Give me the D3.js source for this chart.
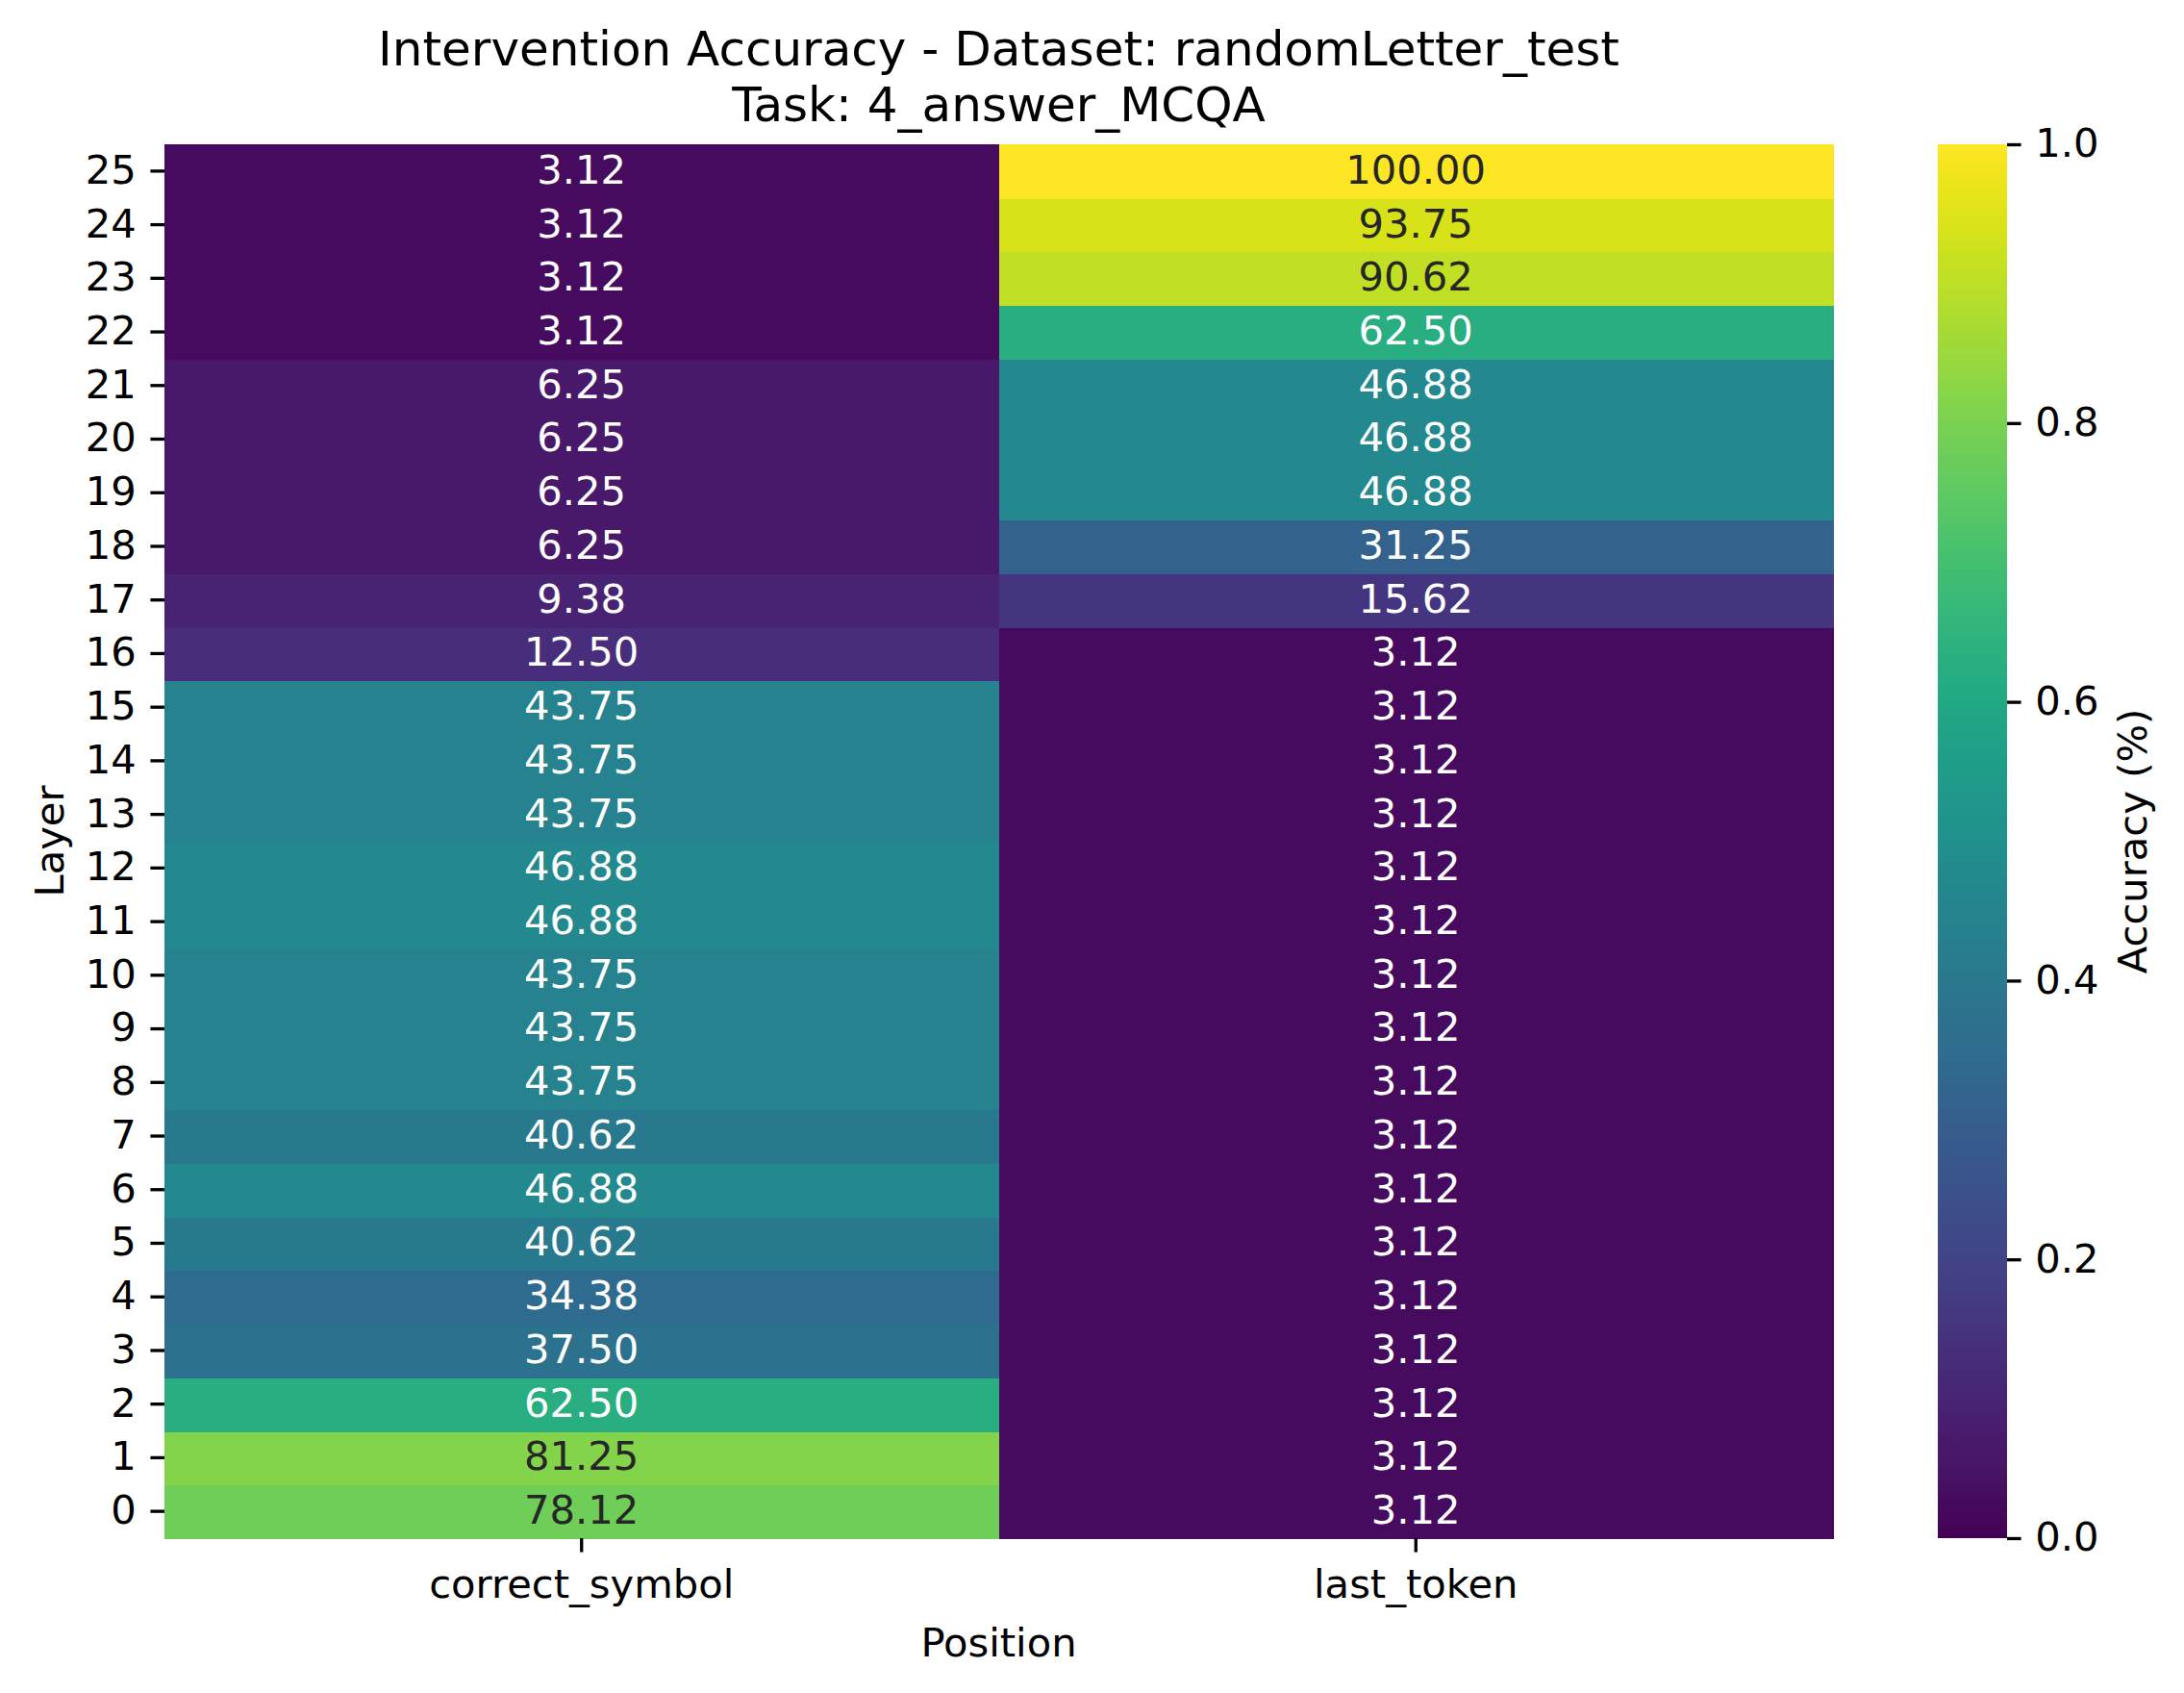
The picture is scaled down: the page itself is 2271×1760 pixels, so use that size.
<!DOCTYPE html>
<html>
<head>
<meta charset="utf-8">
<script src="https://d3js.org/d3.v7.min.js"></script>
<style>
  body { margin: 0; background: #fff; }
  svg text { font-family: "DejaVu Sans", sans-serif; }
</style>
</head>
<body>
<div id="chart"></div>
<script>
// data (accuracy in %)
var layers = d3.range(0, 26);
var positions = ["correct_symbol", "last_token"];
var correctSymbol = [78.12, 81.25, 62.50, 37.50, 34.38, 40.62, 46.88, 40.62, 43.75, 43.75,
                     43.75, 46.88, 46.88, 43.75, 43.75, 43.75, 12.50, 9.38, 6.25, 6.25,
                     6.25, 6.25, 3.12, 3.12, 3.12, 3.12];
var lastToken = [3.12, 3.12, 3.12, 3.12, 3.12, 3.12, 3.12, 3.12, 3.12, 3.12,
                 3.12, 3.12, 3.12, 3.12, 3.12, 3.12, 3.12, 15.62, 31.25, 46.88,
                 46.88, 46.88, 62.50, 90.62, 93.75, 100.00];
var cbarTicks = [0, 0.2, 0.4, 0.6, 0.8, 1.0];

var W = 2271, H = 1760;
var fs = 41.67, tickLen = 14.6, tickPad = 14.6, tickW = 3.33;
var axL = 171, axR = 1906, axT = 150, axB = 1599;

var cells = [];
layers.forEach(function(l, i) {
  cells.push({layer: l, pos: positions[0], v: correctSymbol[i]});
  cells.push({layer: l, pos: positions[1], v: lastToken[i]});
});

var svg = d3.select("#chart").append("svg")
  .attr("width", W).attr("height", H);
svg.append("rect").attr("width", W).attr("height", H).attr("fill", "#fff");

var x = d3.scaleBand().domain(positions).range([axL, axR]);
var y = d3.scaleBand().domain(layers.slice().reverse()).range([axT, axB]);
var color = d3.scaleSequential(d3.interpolateViridis).domain([0, 1]);

// seaborn-style text colour from relative luminance
function luminance(c) {
  var rgb = d3.rgb(c);
  var ch = [rgb.r, rgb.g, rgb.b].map(function(v) {
    v = v / 255;
    return v <= 0.03928 ? v / 12.92 : Math.pow((v + 0.055) / 1.055, 2.4);
  });
  return 0.2126 * ch[0] + 0.7152 * ch[1] + 0.0722 * ch[2];
}

svg.append("g").attr("shape-rendering", "crispEdges").selectAll("rect")
  .data(cells).enter().append("rect")
  .attr("x", function(d) { return x(d.pos); })
  .attr("y", function(d) { return y(d.layer); })
  .attr("width", x.bandwidth() + 1)
  .attr("height", y.bandwidth() + 1)
  .attr("fill", function(d) { return color(d.v / 100); });

svg.append("g").selectAll("text")
  .data(cells).enter().append("text")
  .attr("x", function(d) { return x(d.pos) + x.bandwidth() / 2; })
  .attr("y", function(d) { return y(d.layer) + y.bandwidth() / 2; })
  .attr("dy", "0.31em")
  .attr("text-anchor", "middle")
  .attr("font-size", fs)
  .attr("fill", function(d) { return luminance(color(d.v / 100)) > 0.408 ? "#262626" : "#fff"; })
  .text(function(d) { return d.v.toFixed(2); });

// axes
var yAxis = svg.append("g")
  .attr("transform", "translate(" + axL + ",0)")
  .call(d3.axisLeft(y).tickSize(tickLen).tickPadding(tickPad));
var xAxis = svg.append("g")
  .attr("transform", "translate(0," + axB + ")")
  .call(d3.axisBottom(x).tickSize(tickLen).tickPadding(tickPad));

[xAxis, yAxis].forEach(function(g) {
  g.select(".domain").remove();
  g.selectAll(".tick line").attr("stroke", "#000").attr("stroke-width", tickW);
  g.selectAll(".tick text").attr("font-size", fs).attr("fill", "#000")
    .style("font-family", "'DejaVu Sans', sans-serif");
});
yAxis.selectAll(".tick text").attr("dy", "0.31em");
xAxis.selectAll(".tick text").attr("y", tickLen + tickPad).attr("dy", "0.78em");

// axis labels and title
svg.append("text")
  .attr("x", (axL + axR) / 2).attr("y", 1722)
  .attr("text-anchor", "middle").attr("font-size", fs)
  .text("Position");
svg.append("text")
  .attr("transform", "translate(66," + (axT + axB) / 2 + ") rotate(-90)")
  .attr("text-anchor", "middle").attr("font-size", fs)
  .text("Layer");

var title = svg.append("text")
  .attr("text-anchor", "middle").attr("font-size", 50);
title.append("tspan").attr("x", (axL + axR) / 2).attr("y", 68)
  .text("Intervention Accuracy - Dataset: randomLetter_test");
title.append("tspan").attr("x", (axL + axR) / 2).attr("y", 126)
  .text("Task: 4_answer_MCQA");

// colorbar
var cbL = 2015, cbR = 2087;
var cbScale = d3.scaleLinear().domain([0, 1]).range([axB, axT]);
var grad = svg.append("defs").append("linearGradient")
  .attr("id", "cbar").attr("x1", 0).attr("y1", 1).attr("x2", 0).attr("y2", 0);
grad.selectAll("stop")
  .data(d3.range(0, 1.0001, 0.02)).enter().append("stop")
  .attr("offset", function(d) { return d; })
  .attr("stop-color", function(d) { return color(d); });
svg.append("rect")
  .attr("x", cbL).attr("y", axT)
  .attr("width", cbR - cbL).attr("height", axB - axT)
  .attr("fill", "url(#cbar)");

var cAxis = svg.append("g")
  .attr("transform", "translate(" + cbR + ",0)")
  .call(d3.axisRight(cbScale).tickValues(cbarTicks).tickFormat(d3.format(".1f"))
    .tickSize(tickLen).tickPadding(tickPad));
cAxis.select(".domain").remove();
cAxis.selectAll(".tick line").attr("stroke", "#000").attr("stroke-width", tickW);
cAxis.selectAll(".tick text").attr("font-size", fs).attr("fill", "#000").attr("dy", "0.31em")
  .style("font-family", "'DejaVu Sans', sans-serif");

svg.append("text")
  .attr("transform", "translate(2232," + (axT + axB) / 2 + ") rotate(-90)")
  .attr("text-anchor", "middle").attr("font-size", fs)
  .text("Accuracy (%)");
</script>
</body>
</html>
